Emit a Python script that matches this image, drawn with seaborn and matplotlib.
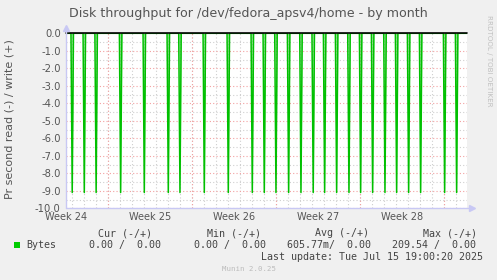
import matplotlib
matplotlib.use("Agg")
import matplotlib.pyplot as plt
import matplotlib.dates as mdates
from matplotlib.ticker import MultipleLocator, FixedLocator, FixedFormatter
from matplotlib.patches import Rectangle
import seaborn as sns
import pandas as pd

# ---------------- data ----------------
title = "Disk throughput for /dev/fedora_apsv4/home - by month"
ylabel = "Pr second read (-) / write (+)"

read_times = ["2025-06-12 23:50", "2025-06-14 00:00", "2025-06-14 23:40",
              "2025-06-17 00:40", "2025-06-19 00:00", "2025-06-21 00:00",
              "2025-06-21 23:20", "2025-06-24 00:00", "2025-06-26 00:00",
              "2025-06-28 00:00", "2025-06-29 00:00", "2025-06-29 23:20",
              "2025-07-01 00:40", "2025-07-02 01:20", "2025-07-03 01:50",
              "2025-07-04 00:40", "2025-07-05 00:40", "2025-07-06 01:20",
              "2025-07-07 00:40", "2025-07-08 00:40", "2025-07-09 01:20",
              "2025-07-10 00:40", "2025-07-11 00:40", "2025-07-12 00:40",
              "2025-07-14 00:40", "2025-07-15 00:40"]
read_values = [-9.1, -9.1, -9.1, -9.1, -9.1, -9.1, -9.1, -9.1, -9.1, -9.1,
               -9.1, -9.1, -9.1, -9.1, -9.1, -9.1, -9.1, -9.1, -9.1, -9.1,
               -9.1, -9.1, -9.1, -9.1, -9.1, -9.1]

range_start = "2025-06-12 12:00"
range_end = "2025-07-15 21:00"
write_values = [0.0, 0.0]

week_labels = ["Week 24", "Week 25", "Week 26", "Week 27", "Week 28"]
week_label_pos = ["2025-06-12 12:00", "2025-06-19 12:00", "2025-06-26 12:00",
                  "2025-07-03 12:00", "2025-07-10 12:00"]
week_starts = ["2025-06-16", "2025-06-23", "2025-06-30", "2025-07-07", "2025-07-14"]

y_ticks = [0.0, -1.0, -2.0, -3.0, -4.0, -5.0, -6.0, -7.0, -8.0, -9.0, -10.0]

legend_headers = ["Cur (-/+)", "Min (-/+)", "Avg (-/+)", "Max (-/+)"]
legend_name = "Bytes"
legend_values = ["0.00 /  0.00", "0.00 /  0.00", "605.77m/  0.00", "209.54 /  0.00"]
last_update = "Last update: Tue Jul 15 19:00:20 2025"
munin_ver = "Munin 2.0.25"
side_text = "RRDTOOL / TOBI OETIKER"

# ---------------- build series ----------------
half = pd.Timedelta(hours=2.5)
rx, ry = [pd.Timestamp(range_start)], [0.0]
for t, v in zip(read_times, read_values):
    T = pd.Timestamp(t)
    rx += [T - half, T, T + half]
    ry += [0.0, v, 0.0]
rx.append(pd.Timestamp(range_end)); ry.append(0.0)
read_df = pd.DataFrame({"time": rx, "value": ry})
write_df = pd.DataFrame({"time": [pd.Timestamp(range_start), pd.Timestamp(range_end)],
                         "value": write_values})

# ---------------- style ----------------
sns.set_theme(style="white")
plt.rcParams["font.family"] = ["DejaVu Sans"]
BG = "#f0f0f0"
TXT = "#555555"
GRID_GRAY = "#cfcfcf"
GRID_RED = "#f2a0a0"
AXIS = "#c8c8f4"

W, H = 497, 280
fig = plt.figure(figsize=(W / 100, H / 100), dpi=100, facecolor=BG)
ax = fig.add_axes([66.3 / W, 1 - 208.3 / H, 400.5 / W, 175 / H])
ax.set_facecolor("white")

# fill + lines
ax.fill_between(read_df["time"], read_df["value"], 0, color="#55d855", alpha=0.5,
                linewidth=0, zorder=2)
sns.lineplot(data=read_df, x="time", y="value", sort=False, estimator=None,
             color="#00c000", linewidth=1.1, ax=ax, zorder=3)
sns.lineplot(data=write_df, x="time", y="value", sort=False, estimator=None,
             color="#000000", linewidth=1.2, ax=ax, zorder=5, clip_on=False)

ax.set_xlim(pd.Timestamp(range_start), pd.Timestamp(range_end))
ax.set_ylim(-10, 0)

# grids
ax.xaxis.set_major_locator(FixedLocator(mdates.date2num(pd.to_datetime(week_label_pos))))
ax.xaxis.set_major_formatter(FixedFormatter(week_labels))
ax.xaxis.set_minor_locator(mdates.DayLocator())
ax.yaxis.set_major_locator(FixedLocator(y_ticks))
ax.yaxis.set_major_formatter(FixedFormatter([f"{v:.1f}" for v in y_ticks]))
ax.yaxis.set_minor_locator(MultipleLocator(0.5))

dot = (0, (1, 2))
ax.grid(False)
ax.grid(which="minor", axis="x", color=GRID_GRAY, linestyle=dot, linewidth=0.8, zorder=0)
ax.grid(which="minor", axis="y", color=GRID_GRAY, linestyle=dot, linewidth=0.8, zorder=0)
ax.grid(which="major", axis="y", color=GRID_RED, linestyle=dot, linewidth=0.8, zorder=1)
for ws in week_starts:
    ax.axvline(pd.Timestamp(ws), color=GRID_RED, linestyle=dot, linewidth=0.8, zorder=1)
ax.set_axisbelow(True)

ax.tick_params(which="both", length=0)
ax.tick_params(axis="y", labelsize=7.2, labelcolor=TXT, pad=4)
ax.tick_params(axis="x", labelsize=7, labelcolor=TXT, pad=2.5)
ax.set_xlabel("")
ax.set_ylabel("")

for s in ["top", "right", "left", "bottom"]:
    ax.spines[s].set_visible(False)
# axis lines with arrows
ax.plot([0, 0], [0, 1.03], transform=ax.transAxes, color=AXIS, lw=1, clip_on=False, zorder=6)
ax.plot([0, 1.012], [0, 0], transform=ax.transAxes, color=AXIS, lw=1, clip_on=False, zorder=6)
ax.plot([0], [1.03], transform=ax.transAxes, marker="^", ms=4, color=AXIS, clip_on=False, zorder=6)
ax.plot([1.012], [0], transform=ax.transAxes, marker=">", ms=4, color=AXIS, clip_on=False, zorder=6)

# texts
def px(x, y):
    return x / W, 1 - y / H

fig.text(*px(248.5, 14), title, ha="center", va="center", fontsize=9.1, color=TXT)
fig.text(*px(10, 119), ylabel, ha="center", va="center", rotation=90, fontsize=8, color=TXT)
fig.text(*px(489, 15), side_text, ha="center", va="top", rotation=270, fontsize=5.1,
         color="#c0c0c0")

mono = "DejaVu Sans Mono"
MTXT = "#444444"
hdr_left = [98.3, 207.3, 315.3, 423.3]
for x, s in zip(hdr_left, legend_headers):
    fig.text(*px(x, 233.3), s, ha="left", va="center", family=mono, fontsize=7.2, color=MTXT)
fig.patches.append(Rectangle(px(14, 248.3), 6 / W, 6 / H, transform=fig.transFigure,
                             facecolor="#00cc00", edgecolor="none"))
fig.text(*px(26.7, 245.3), legend_name, ha="left", va="center", family=mono, fontsize=7.2, color=MTXT)
val_left = [89.3, 194.3, 287.3, 392.3]
for x, s in zip(val_left, legend_values):
    fig.text(*px(x, 245.3), s, ha="left", va="center", family=mono, fontsize=7.2, color=MTXT)
fig.text(*px(261, 257.3), last_update, ha="left", va="center", family=mono, fontsize=7.2, color=MTXT)
fig.text(*px(249, 269), munin_ver, ha="center", va="center", family=mono, fontsize=5.3, color="#bbbbbb")

fig.savefig("out.png", dpi=100, facecolor=BG)
